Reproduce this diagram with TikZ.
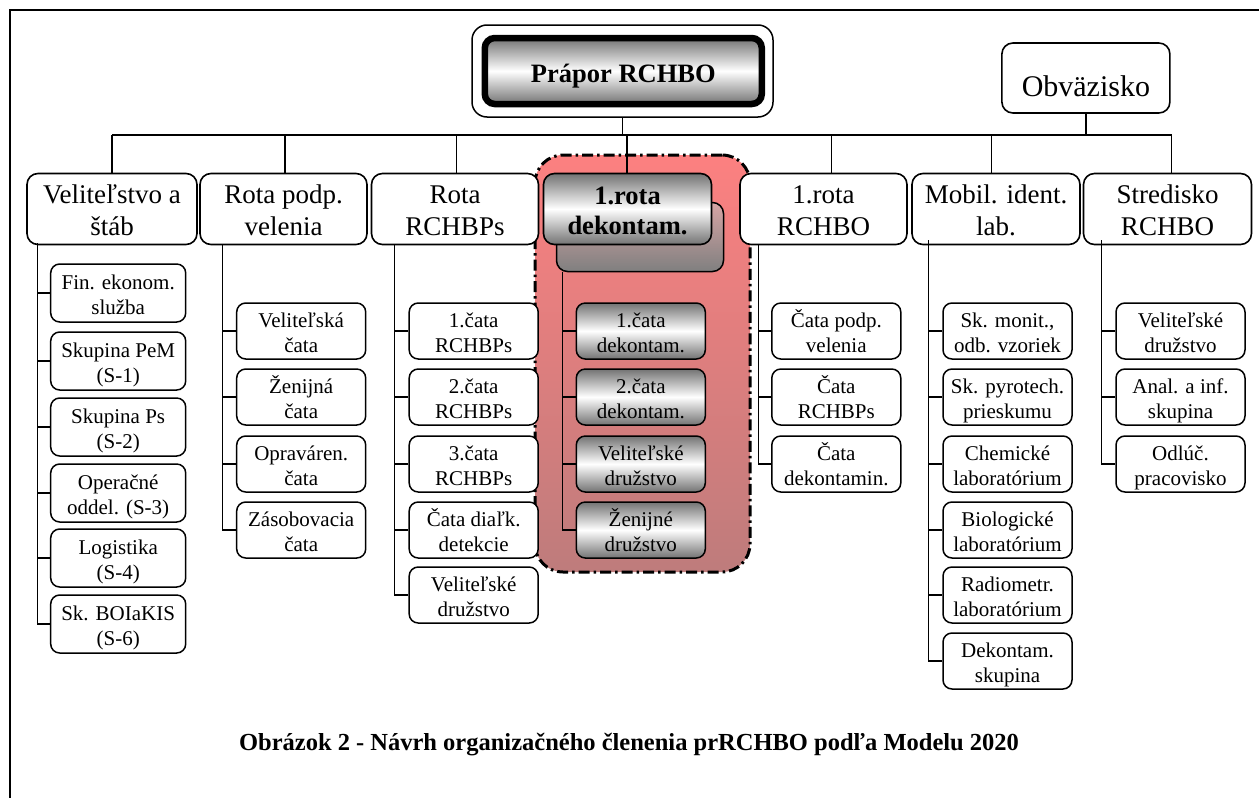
\documentclass[tikz,border=0pt]{standalone}
\usepackage{fontspec}
\setmainfont{Liberation Serif}
\definecolor{redtop}{RGB}{252,128,128}
\definecolor{redbot}{RGB}{190,124,124}
\definecolor{backtop}{RGB}{215,165,165}
\newcommand{\tx}[2][4pt]{\raisebox{-#1}[\height][\depth]{\begin{tabular}{@{}c@{}}#2\end{tabular}}}
\tikzset{
 conn/.style={line width=1.2pt},
 hbox/.style={draw, line width=1.6pt, rounded corners=11pt, fill=white, minimum width=167pt, minimum height=71pt, inner sep=0pt, font=\fontsize{27}{32}\selectfont},
 sbox/.style={draw, line width=1.5pt, rounded corners=9pt, fill=white, minimum width=129pt, minimum height=56pt, inner sep=0pt, font=\fontsize{21}{25}\selectfont},
 abox/.style={sbox, minimum width=135pt, minimum height=58pt},
 gbox/.style={sbox, top color=black!55, bottom color=black!55, middle color=white},
 region/.style={draw, line width=3pt, dash pattern=on 11pt off 4pt on 2.5pt off 4pt, rounded corners=28pt, top color=redtop, bottom color=redbot, minimum width=215pt, minimum height=417pt, inner sep=0pt},
}
\begin{document}
\begin{tikzpicture}[x=1pt,y=-1pt]
\useasboundingbox (0,0) rectangle (1259,798);
% frame
\draw[line width=2.5pt] (10,810) -- (10,10) -- (1270,10);
% highlight region
\node[region] (hl) at (642.5,363.5) {};
% top node
\node[draw, line width=1.5pt, rounded corners=15pt, fill=white, minimum width=301pt, minimum height=92pt] (top) at (622.5,71) {};
\node[draw, line width=6.5pt, rounded corners=10pt, top color=black!55, bottom color=black!55, middle color=white, minimum width=277pt, minimum height=66pt, inner sep=0pt, font=\bfseries\fontsize{26.5}{30}\selectfont] (topin) at (623.3,71) {\tx[5pt]{Prápor RCHBO}};
% Obvazisko
\node[hbox, minimum width=168pt, minimum height=70pt, font=\fontsize{30}{34}\selectfont] (obv) at (1085.9,78) {\tx[12pt]{Obväzisko}};
% bus
\coordinate (busL) at (112,135);
\coordinate (busR) at (1171.7,135);
\draw[conn] (busL) -- (busR);
\draw[conn] (top.south) -- (top.south |- busL);
\draw[conn] (obv.south) -- (obv.south |- busL);
% headers
\node[hbox, minimum width=170pt] (h1) at (112,209) {\tx{Veliteľstvo a\\štáb}};
\node[hbox] (h2) at (283.5,209) {\tx{Rota podp.\\velenia}};
\node[hbox] (h3) at (455,209) {\tx{Rota\\RCHBPs}};
\node[draw, line width=1.5pt, rounded corners=11pt, top color=backtop, bottom color=black!50, minimum width=167pt, minimum height=69pt] (h4b) at (640,237) {};
\node[hbox, top color=black!55, bottom color=black!55, middle color=white, minimum width=168pt, font=\bfseries\fontsize{26.5}{30}\selectfont] (h4) at (627.5,209) {\tx{1.rota\\dekontam.}};
\node[hbox] (h5) at (823.5,209) {\tx{1.rota\\RCHBO}};
\node[hbox, minimum width=168pt] (h6) at (996,209) {\tx{Mobil. ident.\\lab.}};
\node[hbox, minimum width=168pt] (h7) at (1167.5,209) {\tx{Stredisko\\RCHBO}};
% bus drops
\coordinate (d2) at (285,135);
\coordinate (d3) at (456.7,135);
\coordinate (d4) at (627,135);
\coordinate (d5) at (831.7,135);
\coordinate (d6) at (991.7,135);
\coordinate (d7) at (1171.7,135);
\begin{scope}[on background layer/.try]
\end{scope}
\draw[conn] (busL) -- (busL |- h1.north);
\draw[conn] (d2) -- (d2 |- h2.north);
\draw[conn] (d3) -- (d3 |- h3.north);
\draw[conn] (d4) -- (d4 |- h4.north);
\draw[conn] (d5) -- (d5 |- h5.north);
\draw[conn] (d6) -- (d6 |- h6.north);
\draw[conn] (d7) -- (d7 |- h7.north);
% column 1
\node[abox] (s1a) at (118.2,293) {\tx{Fin. ekonom.\\služba}};
\node[abox] (s1b) at (118.2,361) {\tx{Skupina PeM\\(S-1)}};
\node[abox] (s1c) at (118.2,427) {\tx{Skupina Ps\\(S-2)}};
\node[abox] (s1d) at (118.2,493) {\tx{Operačné\\oddel. (S-3)}};
\node[abox] (s1e) at (118.2,558) {\tx{Logistika\\(S-4)}};
\node[abox] (s1f) at (118.2,624) {\tx{Sk. BOIaKIS\\(S-6)}};
\coordinate (t1) at (37.3,243);
\draw[conn] (t1) |- (s1f.west);
\foreach \n in {s1a,s1b,s1c,s1d,s1e} \draw[conn] (t1 |- \n.west) -- (\n.west);
% column 2
\node[sbox] (s2a) at (301.2,331) {\tx{Veliteľská\\čata}};
\node[sbox] (s2b) at (301.2,397) {\tx{Ženijná\\čata}};
\node[sbox] (s2c) at (301.2,464) {\tx{Opraváren.\\čata}};
\node[sbox] (s2d) at (301.2,530) {\tx{Zásobovacia\\čata}};
\coordinate (t2) at (222.7,245);
\draw[conn] (t2) |- (s2d.west);
\foreach \n in {s2a,s2b,s2c} \draw[conn] (t2 |- \n.west) -- (\n.west);
% column 3
\node[sbox] (s3a) at (473.7,331) {\tx{1.čata\\RCHBPs}};
\node[sbox] (s3b) at (473.7,397) {\tx{2.čata\\RCHBPs}};
\node[sbox] (s3c) at (473.7,464) {\tx{3.čata\\RCHBPs}};
\node[sbox] (s3d) at (473.7,530) {\tx{Čata diaľk.\\detekcie}};
\node[sbox] (s3e) at (473.7,595) {\tx{Veliteľské\\družstvo}};
\coordinate (t3) at (394.3,245);
\draw[conn] (t3) |- (s3e.west);
\foreach \n in {s3a,s3b,s3c,s3d} \draw[conn] (t3 |- \n.west) -- (\n.west);
% column 4
\node[gbox] (s4a) at (640.8,331) {\tx{1.čata\\dekontam.}};
\node[gbox] (s4b) at (640.8,397) {\tx{2.čata\\dekontam.}};
\node[gbox] (s4c) at (640.8,464) {\tx{Veliteľské\\družstvo}};
\node[gbox] (s4d) at (640.8,530) {\tx{Ženijné\\družstvo}};
\coordinate (t4) at (562.7,272);
\draw[conn] (t4) |- (s4d.west);
\foreach \n in {s4a,s4b,s4c} \draw[conn] (t4 |- \n.west) -- (\n.west);
% column 5
\node[sbox] (s5a) at (836.3,331) {\tx{Čata podp.\\velenia}};
\node[sbox] (s5b) at (836.3,397) {\tx{Čata\\RCHBPs}};
\node[sbox] (s5c) at (836.3,464) {\tx{Čata\\dekontamin.}};
\coordinate (t5) at (758.3,245);
\draw[conn] (t5) |- (s5c.west);
\foreach \n in {s5a,s5b} \draw[conn] (t5 |- \n.west) -- (\n.west);
% column 6
\node[sbox] (s6a) at (1007.5,331) {\tx{Sk. monit.,\\odb. vzoriek}};
\node[sbox] (s6b) at (1007.5,397) {\tx{Sk. pyrotech.\\prieskumu}};
\node[sbox] (s6c) at (1007.5,464) {\tx{Chemické\\laboratórium}};
\node[sbox] (s6d) at (1007.5,530) {\tx{Biologické\\laboratórium}};
\node[sbox] (s6e) at (1007.5,595) {\tx{Radiometr.\\laboratórium}};
\node[sbox] (s6f) at (1007.5,661) {\tx{Dekontam.\\skupina}};
\coordinate (t6) at (928.3,240);
\draw[conn] (t6) |- (s6f.west);
\foreach \n in {s6a,s6b,s6c,s6d,s6e} \draw[conn] (t6 |- \n.west) -- (\n.west);
% column 7
\node[sbox] (s7a) at (1180.5,331) {\tx{Veliteľské\\družstvo}};
\node[sbox] (s7b) at (1180.5,397) {\tx{Anal. a inf.\\skupina}};
\node[sbox] (s7c) at (1180.5,464) {\tx{Odlúč.\\pracovisko}};
\coordinate (t7) at (1101.7,240);
\draw[conn] (t7) |- (s7c.west);
\foreach \n in {s7a,s7b} \draw[conn] (t7 |- \n.west) -- (\n.west);
% caption
\node[font=\bfseries\fontsize{24.5}{28}\selectfont] (cap) at (629,745) {Obrázok 2 - Návrh organizačného členenia prRCHBO podľa Modelu 2020};
\end{tikzpicture}
\end{document}
